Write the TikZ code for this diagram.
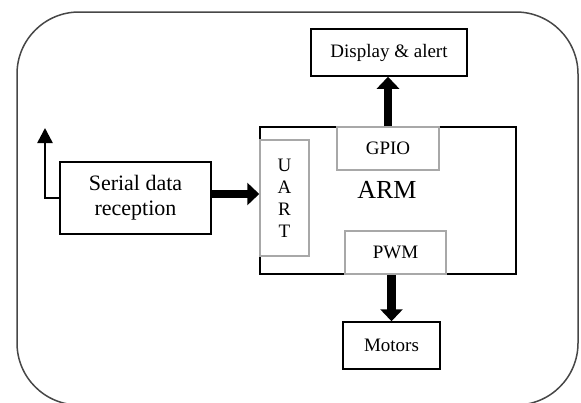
\documentclass[tikz,border=0pt]{standalone}
\usepackage{fontspec}
\setmainfont{Liberation Serif}
\usetikzlibrary{arrows.meta}
\definecolor{outergray}{HTML}{474747}
\definecolor{innergray}{HTML}{A8A8A8}
\begin{document}
\begin{tikzpicture}[x=1pt,y=-1pt,
  blk/.style={draw=black,line width=1.5pt,fill=white,inner sep=0pt,align=center},
  sub/.style={draw=innergray,line width=1.5pt,fill=white,inner sep=0pt,align=center},
  bigarrow/.style={line width=8.5pt,-{Triangle[length=12pt,width=22pt]}},
  thinarrow/.style={line width=2.5pt,-{Triangle[length=15pt,width=15pt]}},
  fA/.style={font=\fontsize{19}{22}\selectfont},
  fB/.style={font=\fontsize{22}{25}\selectfont},
  fC/.style={font=\fontsize{26}{30}\selectfont}]
\useasboundingbox (0,0) rectangle (581,402);
\clip (0,0) rectangle (581,402);
\fill[white] (0,0) rectangle (581,402);
\draw[outergray,line width=1.5pt,rounded corners=62pt] (17,12) rectangle (578,405);
% ARM block
\node[blk,minimum width=256pt,minimum height=147pt] (arm) at (388,200.5) {};
\node[sub,fA,minimum width=102pt,minimum height=43pt] (gpio) at (388,148.5) {GPIO};
\node[sub,fA,minimum width=49pt,minimum height=116pt] (uart) at (284.5,198) {U\\A\\R\\T};
\node[sub,fA,minimum width=101pt,minimum height=43pt] (pwm) at (395.5,252.5) {PWM};
\node[fC] (armlabel) at (387,190) {ARM};
% outer blocks
\node[blk,fA,minimum width=156pt,minimum height=47pt] (disp) at (389,52.5) {Display \& alert};
\node[blk,fB,minimum width=151pt,minimum height=72pt] (ser) at (135.5,198) {Serial data\\reception};
\node[blk,fA,minimum width=97pt,minimum height=47pt] (mot) at (391.5,345.5) {Motors};
\coordinate (fb) at (45,128);
% connectors
\draw[bigarrow] (gpio.north) -- (gpio.north |- disp.south);
\draw[bigarrow] (pwm.south -| mot.north) -- (mot.north);
\draw[bigarrow] ([yshift=4pt]ser.east) -- ([yshift=4pt]ser.east -| uart.west);
\draw[thinarrow] (ser.west) -| (fb);
\end{tikzpicture}
\end{document}
